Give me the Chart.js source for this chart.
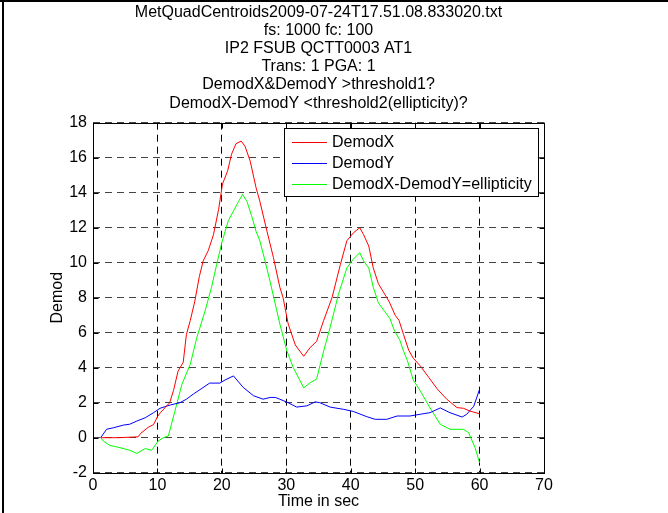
<!DOCTYPE html>
<html>
<head>
<meta charset="utf-8">
<script src="https://cdn.jsdelivr.net/npm/chart.js@4.4.1/dist/chart.umd.min.js"></script>
<style>
  html, body { margin: 0; padding: 0; background: #fff; }
  canvas { display: block; }
</style>
</head>
<body>
<canvas id="demodChart" width="668" height="513"></canvas>
<script>
// MATLAB 风格的 Demod 曲线图
var titleLines = [
  'MetQuadCentroids2009-07-24T17.51.08.833020.txt',
  'fs: 1000 fc: 100',
  'IP2 FSUB QCTT0003 AT1',
  'Trans: 1 PGA: 1',
  'DemodX&DemodY >threshold1?',
  'DemodX-DemodY <threshold2(ellipticity)?'
];
var xTickValues = [0, 10, 20, 30, 40, 50, 60, 70];
var yTickValues = [-2, 0, 2, 4, 6, 8, 10, 12, 14, 16, 18];
var seriesNames = ['DemodX', 'DemodY', 'DemodX-DemodY=ellipticity'];
var seriesColors = ['#ff0000', '#0000ff', '#00ff00'];

var demodXTime = [1.2, 4.0, 7.0, 7.4, 8.6, 9.4, 10.0, 10.5, 11.2, 11.9, 12.5, 13.2, 14.0, 14.5, 15.1, 15.8, 16.5, 17.1, 17.9, 18.7, 19.5, 20.1, 20.9, 21.5, 22.2, 23.0, 23.6, 24.4, 25.3, 25.9, 27.0, 28.0, 29.0, 29.5, 30.3, 31.4, 32.7, 33.7, 34.7, 35.8, 37.1, 38.4, 39.4, 40.4, 41.4, 42.0, 42.8, 43.5, 44.3, 45.6, 46.0, 46.9, 47.5, 48.2, 49.0, 49.7, 50.8, 52.1, 53.4, 54.9, 56.5, 57.5, 58.5, 60.0];
var demodX = [0, 0, 0.05, 0.25, 0.6, 0.75, 1.2, 1.45, 1.72, 2.0, 2.7, 3.8, 4.3, 5.9, 6.7, 7.8, 9.2, 10.1, 10.7, 11.6, 13.05, 14.5, 15.25, 16.2, 16.8, 16.95, 16.65, 15.8, 14.3, 13.5, 11.8, 10.3, 8.6, 8.0, 6.5, 5.3, 4.65, 5.15, 5.5, 6.7, 8.0, 9.9, 11.25, 11.7, 12.0, 11.6, 10.95, 9.7, 8.8, 8.0, 7.75, 7.0, 6.7, 5.9, 5.0, 4.55, 4.1, 3.45, 2.8, 2.2, 1.72, 1.68, 1.52, 1.37];

var demodYTime = [1.2, 2.1, 3.2, 4.7, 5.7, 6.8, 8.1, 9.4, 10.4, 12.0, 13.5, 14.5, 15.6, 16.9, 18.1, 19.7, 20.5, 21.8, 23.3, 24.9, 26.4, 27.5, 28.3, 29.0, 30.3, 31.6, 33.2, 34.5, 35.2, 36.8, 38.9, 40.4, 42.5, 43.8, 45.6, 47.2, 49.2, 50.8, 52.3, 53.9, 55.4, 57.3, 58.0, 59.1, 60.0];
var demodY = [0, 0.48, 0.57, 0.72, 0.77, 0.95, 1.14, 1.43, 1.68, 1.87, 2.0, 2.2, 2.5, 2.82, 3.12, 3.12, 3.3, 3.53, 2.88, 2.4, 2.2, 2.3, 2.3, 2.2, 2.0, 1.75, 1.82, 2.05, 2.0, 1.75, 1.62, 1.5, 1.2, 1.05, 1.05, 1.24, 1.24, 1.34, 1.43, 1.7, 1.43, 1.18, 1.34, 1.8, 2.77];

var ellipTime = [1.2, 1.6, 2.6, 4.2, 5.7, 6.8, 8.1, 9.1, 10.1, 10.9, 11.7, 12.7, 13.8, 15.1, 16.1, 17.4, 18.4, 19.2, 20.0, 21.0, 21.8, 22.6, 23.2, 23.9, 24.6, 25.3, 25.9, 26.7, 27.5, 28.5, 29.0, 30.1, 31.1, 32.7, 33.7, 34.7, 35.8, 36.8, 38.1, 39.4, 40.4, 41.4, 42.0, 42.8, 43.5, 44.3, 45.3, 46.1, 46.8, 47.6, 48.2, 48.8, 49.7, 50.8, 52.3, 53.9, 55.4, 57.5, 58.3, 59.3, 60.0];
var ellipticity = [0, -0.19, -0.44, -0.57, -0.72, -0.9, -0.62, -0.72, -0.2, 0, 0.1, 1.5, 3.05, 4.2, 5.7, 7.25, 8.6, 9.9, 11.15, 12.4, 12.95, 13.5, 13.9, 13.5, 12.7, 11.8, 11.25, 10.1, 8.9, 7.3, 6.5, 4.95, 4.0, 2.85, 3.14, 3.35, 4.95, 6.3, 8.2, 9.7, 10.2, 10.57, 10.1, 9.7, 8.6, 7.7, 7.2, 6.8, 6.1, 5.6, 4.95, 4.4, 3.3, 2.67, 1.71, 0.77, 0.48, 0.48, 0.29, -0.57, -1.43];

var FONT = '"Liberation Sans", Arial, sans-serif';
var FSIZE = 16;

function toPoints(ts, vs) {
  return ts.map(function (t, i) { return { x: t, y: vs[i] }; });
}

function lineSet(i, ts, vs) {
  return {
    label: seriesNames[i],
    data: toPoints(ts, vs),
    borderColor: seriesColors[i],
    backgroundColor: seriesColors[i],
    borderWidth: 1,
    pointRadius: 0,
    tension: 0,
    fill: false
  };
}

// 边框、内刻度和图例（MATLAB 样式）
var matlabFrame = {
  id: 'matlabFrame',
  beforeDraw: function (chart) {
    var ctx = chart.ctx;
    ctx.save();
    ctx.fillStyle = '#fff';
    ctx.fillRect(0, 0, chart.width, chart.height);
    ctx.restore();
  },
  afterDraw: function (chart) {
    var ctx = chart.ctx, a = chart.chartArea;
    var xs = chart.scales.x, ys = chart.scales.y;
    var L = Math.round(a.left) + 0.5, R = Math.round(a.right) + 0.5;
    var T = Math.round(a.top) + 0.5, B = Math.round(a.bottom) + 0.5;
    ctx.save();
    ctx.fillStyle = '#000';
    ctx.fillRect(0, 0, chart.width, 2);
    ctx.fillRect(2, 0, 2, chart.height);

    ctx.strokeStyle = '#000';
    ctx.lineWidth = 1;
    ctx.strokeRect(L, T, R - L, B - T);
    ctx.beginPath();
    xTickValues.forEach(function (v) {
      var px = Math.round(xs.getPixelForValue(v)) + 0.5;
      ctx.moveTo(px, B); ctx.lineTo(px, B - 5);
      ctx.moveTo(px, T); ctx.lineTo(px, T + 5);
    });
    yTickValues.forEach(function (v) {
      var py = Math.round(ys.getPixelForValue(v)) + 0.5;
      ctx.moveTo(L, py); ctx.lineTo(L + 5, py);
      ctx.moveTo(R, py); ctx.lineTo(R - 5, py);
    });
    ctx.stroke();

    // legend
    ctx.font = FSIZE + 'px ' + FONT;
    var maxW = 0;
    seriesNames.forEach(function (n) { maxW = Math.max(maxW, ctx.measureText(n).width); });
    var boxW = 8 + 35 + 5 + maxW + 6;
    var boxR = Math.round(a.right) - 6;
    var boxL = boxR - Math.round(boxW);
    var boxT = Math.round(a.top) + 5;
    var rowH = 21;
    var boxB = boxT + 68;
    ctx.fillStyle = '#fff';
    ctx.fillRect(boxL, boxT, boxR - boxL, boxB - boxT);
    ctx.strokeStyle = '#000';
    ctx.strokeRect(boxL + 0.5, boxT + 0.5, boxR - boxL, boxB - boxT);
    ctx.textBaseline = 'middle';
    ctx.textAlign = 'left';
    chart.data.datasets.forEach(function (ds, i) {
      var y = boxT + 13.5 + i * rowH;
      ctx.strokeStyle = ds.borderColor;
      ctx.beginPath();
      ctx.moveTo(boxL + 8, Math.round(y) + 0.5);
      ctx.lineTo(boxL + 43, Math.round(y) + 0.5);
      ctx.stroke();
      ctx.fillStyle = '#000';
      ctx.fillText(ds.label, boxL + 48, y + 1);
    });
    ctx.restore();
  }
};

document.addEventListener('DOMContentLoaded', function () {
  var el = document.getElementById('demodChart');
  if (!el || !window.Chart) return;

  new Chart(el, {
    type: 'line',
    data: {
      datasets: [
        lineSet(0, demodXTime, demodX),
        lineSet(1, demodYTime, demodY),
        lineSet(2, ellipTime, ellipticity)
      ]
    },
    options: {
      responsive: false,
      animation: false,
      layout: { padding: { left: 0, right: 124, top: 0, bottom: 0 } },
      plugins: {
        legend: { display: false },
        tooltip: { enabled: false },
        title: {
          display: true,
          fullSize: false,
          text: titleLines,
          color: '#000',
          font: { family: FONT, size: FSIZE, weight: 'normal', lineHeight: 18.2 / FSIZE },
          padding: { top: 3, bottom: 10.5 }
        }
      },
      scales: {
        x: {
          type: 'linear',
          min: 0,
          max: 70,
          afterBuildTicks: function (s) { s.ticks = xTickValues.map(function (v) { return { value: v }; }); },
          afterFit: function (s) { s.height = 40.3; },
          ticks: { color: '#000', padding: 3, font: { family: FONT, size: FSIZE }, maxRotation: 0 },
          grid: { color: '#000', lineWidth: 1, drawTicks: false },
          border: { display: false, dash: [7, 5] },
          title: { display: true, text: 'Time in sec', color: '#000', font: { family: FONT, size: FSIZE }, padding: { top: 0, bottom: 1.5 } }
        },
        y: {
          type: 'linear',
          min: -2,
          max: 18,
          afterBuildTicks: function (s) { s.ticks = yTickValues.map(function (v) { return { value: v }; }); },
          afterFit: function (s) { s.width = 93; },
          ticks: { color: '#000', padding: 6, font: { family: FONT, size: FSIZE } },
          grid: { color: '#444', lineWidth: 1, drawTicks: false },
          border: { display: false, dash: [7, 5] },
          title: { display: true, text: 'Demod', color: '#000', font: { family: FONT, size: FSIZE }, padding: { top: 48, bottom: 0 } }
        }
      }
    },
    plugins: [matlabFrame]
  });
});
</script>
</body>
</html>
